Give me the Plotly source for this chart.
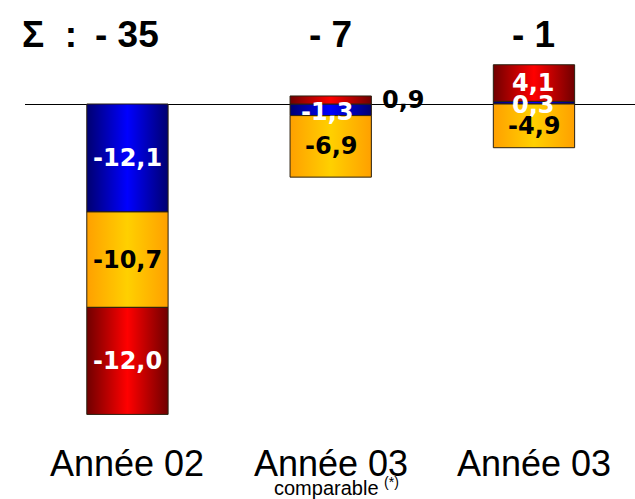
import plotly.graph_objects as go

# ---- data ----
positions = [0, 1, 2]
cat_labels = ["Année 02", "Année 03", "Année 03"]
sub_labels = ["", "comparable <sup>(*)</sup>", ""]
sum_labels = ["- 35", "- 7", "- 1"]
blue = [-12.1, -1.3, 0.3]
orange = [-10.7, -6.9, -4.9]
red = [-12.0, 0.9, 4.1]

series = [
    ("blue", blue, ["#000070", "#0000ff", "#000070"], "white"),
    ("orange", orange, ["#ffa000", "#ffd000", "#ffa000"], "black"),
    ("red", red, ["#700000", "#ff0000", "#700000"], "white"),
]

W, H = 635, 499
ZERO_PX = 104
PX_PER_UNIT = 8.92
y_top = ZERO_PX / PX_PER_UNIT
y_bot = -(H - ZERO_PX) / PX_PER_UNIT
half_w = 0.2

fig = go.Figure()
label_font = dict(family="DejaVu Sans", size=24, weight="bold")
annotations = []

pos_base = [0.0] * len(positions)
neg_base = [0.0] * len(positions)
for name, vals, cols, txtcol in series:
    for i, (x, v) in enumerate(zip(positions, vals)):
        if v >= 0:
            y0 = pos_base[i]
            y1 = y0 + v
            pos_base[i] = y1
        else:
            y0 = neg_base[i]
            y1 = y0 + v
            neg_base[i] = y1
        x0, x1 = x - half_w, x + half_w
        fig.add_trace(go.Scatter(
            x=[x0, x1, x1, x0, x0], y=[y0, y0, y1, y1, y0],
            mode="lines", fill="toself",
            fillgradient=dict(type="horizontal",
                              colorscale=[[0, cols[0]], [0.5, cols[1]], [1, cols[2]]]),
            line=dict(color="#2a2010", width=1),
            hoverinfo="skip", showlegend=False,
        ))
        txt = f"{v:.1f}".replace(".", ",")
        ym = (y0 + y1) / 2
        ax = x
        col = txtcol
        if abs(v) < 1.0 and v > 0.5:
            # small segment: label outside to the right
            ax = x + half_w + 0.16
            col = "black"
        elif abs(v) < 1.0:
            ym = ym - 0.25
        elif abs(v) < 2.0:
            ym = ym - 0.2
            ax = x - 0.02
        annotations.append(dict(x=ax, y=ym, xref="x", yref="y", text=txt,
                                showarrow=False, font=dict(label_font, color=col),
                                xanchor="center", yanchor="middle"))

# sum labels
sum_font = dict(family="Liberation Sans", size=37, weight="bold", color="black")
for x, s in zip(positions, sum_labels):
    annotations.append(dict(x=x, y=1 - 35 / H, xref="x", yref="paper", text=s,
                            showarrow=False, font=sum_font,
                            xanchor="center", yanchor="middle"))
annotations.append(dict(x=-0.24, y=1 - 35 / H, xref="x", yref="paper",
                        text="Σ\u00a0\u00a0:", showarrow=False, font=sum_font,
                        xanchor="right", yanchor="middle"))

# category labels
for x, c, s in zip(positions, cat_labels, sub_labels):
    annotations.append(dict(x=x, y=1 - 463 / H, xref="x", yref="paper", text=c,
                            showarrow=False,
                            font=dict(family="Liberation Sans", size=36, color="black"),
                            xanchor="center", yanchor="middle"))
    if s:
        annotations.append(dict(x=x + 0.03, y=1 - 486 / H, xref="x", yref="paper", text=s,
                                showarrow=False,
                                font=dict(family="Liberation Sans", size=20, color="black"),
                                xanchor="center", yanchor="middle"))

fig.update_layout(
    width=W, height=H,
    margin=dict(l=25, r=0, t=0, b=0),
    paper_bgcolor="white", plot_bgcolor="white",
    xaxis=dict(range=[-0.504, 2.497], visible=False, fixedrange=True),
    yaxis=dict(range=[y_bot, y_top], showgrid=False, showticklabels=False,
               ticks="", zeroline=True, zerolinecolor="black", zerolinewidth=1,
               showline=False, fixedrange=True),
    annotations=annotations,
    showlegend=False,
)

fig.write_html("out.html", config={"displayModeBar": False},
               post_script=["document.body.style.margin='0';"])
